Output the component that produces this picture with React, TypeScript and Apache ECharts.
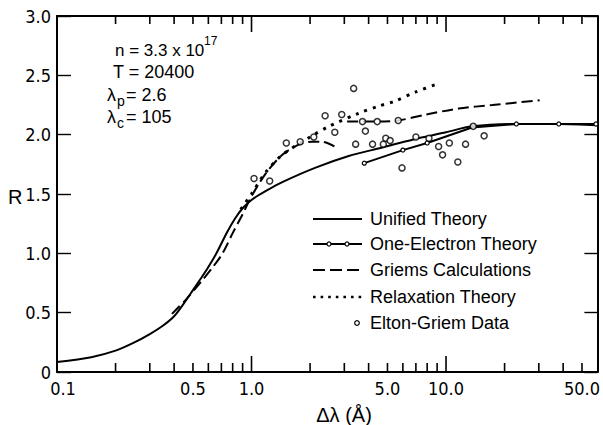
import React, { useEffect, useRef } from "react";
import * as echarts from "echarts";

// ---- data (Δλ in Å, R) ----
const unifiedX = [0.1, 0.15, 0.2, 0.25, 0.3, 0.35, 0.4, 0.45, 0.5, 0.55, 0.6, 0.66, 0.75, 0.82, 0.9, 1.0, 1.2, 1.44, 2.12, 3.16, 4.65, 6.8, 10, 13.6, 23, 38, 60];
const unifiedR = [0.084, 0.125, 0.18, 0.25, 0.32, 0.39, 0.47, 0.58, 0.69, 0.79, 0.885, 1.0, 1.18, 1.29, 1.38, 1.45, 1.53, 1.6, 1.72, 1.82, 1.89, 1.96, 2.02, 2.07, 2.09, 2.09, 2.08];

const oneElecX = [3.8, 6.0, 8.0, 13.6, 23, 38, 59];
const oneElecR = [1.76, 1.87, 1.93, 2.06, 2.09, 2.09, 2.09];
const oneElecMarked = [true, true, true, false, true, true, true];

const griems1X = [0.39, 0.46, 0.55, 0.63, 0.71, 0.8, 0.9, 1.0, 1.18, 1.44, 1.77, 2.05, 2.3, 2.75];
const griems1R = [0.49, 0.61, 0.76, 0.88, 1.0, 1.17, 1.33, 1.48, 1.67, 1.83, 1.92, 1.94, 1.94, 1.89];
const griems2X = [3.1, 3.7, 4.4, 5.7, 7.9, 11.6, 17.3, 30.3];
const griems2R = [2.11, 2.11, 2.11, 2.12, 2.17, 2.22, 2.25, 2.29];

const relaxX = [0.88, 1.0, 1.18, 1.44, 2.0, 2.5, 3.55, 4.5, 5.4, 7.0, 9.1];
const relaxR = [1.37, 1.5, 1.68, 1.83, 1.98, 2.07, 2.18, 2.24, 2.28, 2.36, 2.43];

const dataX = [1.03, 1.24, 1.51, 1.78, 2.09, 2.39, 2.91, 2.68, 3.35, 3.43, 3.85, 4.19, 4.76, 4.9, 5.16, 5.94, 7.0, 8.17, 9.16, 10.4, 9.6, 12.6, 11.5, 15.7, 13.8, 3.72, 4.43, 5.68];
const dataR = [1.63, 1.61, 1.93, 1.94, 1.98, 2.16, 2.17, 2.02, 2.39, 1.92, 2.03, 1.92, 1.92, 1.97, 1.95, 1.72, 1.98, 1.97, 1.9, 1.93, 1.83, 1.92, 1.77, 1.99, 2.07, 2.11, 2.11, 2.12];

const minorTicks = [0.2, 0.3, 0.4, 0.5, 0.6, 0.7, 0.8, 0.9, 2, 3, 4, 5, 6, 7, 8, 9, 20, 30, 40, 50];
const majorTicks = [1, 10];
const xLabelValues = [0.1, 0.5, 1, 5, 10, 50];
const xLabelTexts = ["0.1", "0.5", "1.0", "5.0", "10.0", "50.0"];

const legendNames = ["Unified Theory", "One-Electron Theory", "Griems Calculations", "Relaxation Theory", "Elton-Griem Data"];

const X_MIN = 0.1;
const X_MAX = 60;
const Y_MIN = 0;
const Y_MAX = 3;

const L = (v: number) => Math.log10(v);
const pts = (xs: number[], ys: number[]) => xs.map((x, i) => [L(x), ys[i]]);

const NARROW = "'Liberation Sans Narrow', 'DejaVu Sans Condensed', 'Liberation Sans', sans-serif";
const SANS = "'Liberation Sans', Arial, sans-serif";

export default function App() {
  const ref = useRef<HTMLDivElement>(null);

  useEffect(() => {
    if (!ref.current) return;
    const chart = echarts.init(ref.current, null, { renderer: "svg" });
    const black = "#000";

    const legendRowsY = [219, 244, 270, 297, 323];
    const legendGraphics: any[] = [
      { type: "line", shape: { x1: 313, y1: legendRowsY[0], x2: 362, y2: legendRowsY[0] }, style: { stroke: black, lineWidth: 2 } },
      { type: "line", shape: { x1: 313, y1: legendRowsY[1], x2: 362, y2: legendRowsY[1] }, style: { stroke: black, lineWidth: 2 } },
      { type: "circle", shape: { cx: 329, cy: legendRowsY[1], r: 2 }, style: { fill: "#fff", stroke: black, lineWidth: 1.2 } },
      { type: "circle", shape: { cx: 347, cy: legendRowsY[1], r: 2 }, style: { fill: "#fff", stroke: black, lineWidth: 1.2 } },
      { type: "line", shape: { x1: 313, y1: legendRowsY[2], x2: 362, y2: legendRowsY[2] }, style: { stroke: black, lineWidth: 2, lineDash: [12, 5] } },
      { type: "line", shape: { x1: 313, y1: legendRowsY[3], x2: 366, y2: legendRowsY[3] }, style: { stroke: black, lineWidth: 2.6, lineDash: [2.6, 5] } },
      { type: "circle", shape: { cx: 357, cy: legendRowsY[4], r: 2.3 }, style: { fill: "#fff", stroke: black, lineWidth: 1.2 } },
      ...legendNames.map((n, i) => ({
        type: "text",
        x: 370,
        y: legendRowsY[i],
        style: { text: n, fontSize: 18, fontFamily: SANS, fill: black, verticalAlign: "middle" },
      })),
    ];

    const txt = (text: string, x: number, y: number, size: number, family = SANS, align = "left") => ({
      type: "text",
      x,
      y,
      style: { text, fontSize: size, fontFamily: family, fill: black, align, verticalAlign: "middle" },
    });

    const tickStyle = { color: black, width: 1.4 };

    chart.setOption({
      animation: false,
      backgroundColor: "#fff",
      grid: { left: 57, top: 16, right: 0, bottom: 53, containLabel: false },
      xAxis: [
        {
          type: "value",
          min: L(X_MIN),
          max: L(X_MAX),
          position: "bottom",
          splitLine: { show: false },
          axisLine: { show: true, onZero: false, lineStyle: { color: black, width: 2 } },
          axisTick: { show: false },
          axisLabel: {
            show: true,
            customValues: xLabelValues.map(L),
            formatter: (v: number) => {
              const i = xLabelValues.findIndex((t) => Math.abs(L(t) - v) < 1e-6);
              if (i < 0) return "";
              return i === 0 ? "{first|" + xLabelTexts[i] + "}" : xLabelTexts[i];
            },
            rich: { first: { padding: [0, 0, 0, 12], fontSize: 18, fontFamily: NARROW, color: black } },
            color: black,
            fontSize: 18,
            fontFamily: NARROW,
            margin: 7,
          },
        },
        {
          type: "value",
          min: L(X_MIN),
          max: L(X_MAX),
          position: "top",
          splitLine: { show: false },
          axisLine: { show: true, onZero: false, lineStyle: { color: black, width: 2 } },
          axisTick: { show: false },
          axisLabel: { show: false },
        },
      ],
      yAxis: [
        {
          type: "value",
          min: Y_MIN,
          max: Y_MAX,
          interval: 0.5,
          position: "left",
          splitLine: { show: false },
          axisLine: { show: true, onZero: false, lineStyle: { color: black, width: 2 } },
          axisTick: { show: true, inside: true, length: 14, lineStyle: tickStyle },
          axisLabel: {
            formatter: (v: number) => (v === 0 ? "0" : v.toFixed(1)),
            color: black,
            fontSize: 18,
            fontFamily: NARROW,
            margin: 6,
          },
        },
        {
          type: "value",
          min: Y_MIN,
          max: Y_MAX,
          interval: 0.5,
          position: "right",
          splitLine: { show: false },
          axisLine: { show: true, onZero: false, lineStyle: { color: black, width: 2 } },
          axisTick: { show: true, inside: true, length: 13, lineStyle: tickStyle },
          axisLabel: { show: false },
        },
      ],
      series: [
        {
          name: "Unified Theory",
          type: "line",
          data: pts(unifiedX, unifiedR),
          showSymbol: false,
          smooth: 0.3,
          lineStyle: { color: black, width: 2 },
          z: 3,
        },
        {
          name: "One-Electron Theory",
          type: "line",
          data: oneElecX.map((x, i) => ({
            value: [L(x), oneElecR[i]],
            symbol: oneElecMarked[i] ? "circle" : "none",
          })),
          symbol: "circle",
          symbolSize: 4,
          itemStyle: { color: "#fff", borderColor: black, borderWidth: 1.2 },
          lineStyle: { color: black, width: 2 },
          z: 4,
        },
        {
          name: "Griems Calculations",
          type: "line",
          data: pts(griems1X, griems1R),
          showSymbol: false,
          smooth: 0.3,
          lineStyle: { color: black, width: 2, type: [11, 5] },
          z: 3,
        },
        {
          name: "Griems Calculations",
          type: "line",
          data: pts(griems2X, griems2R),
          showSymbol: false,
          smooth: 0.3,
          lineStyle: { color: black, width: 2, type: [11, 5] },
          z: 3,
        },
        {
          name: "Relaxation Theory",
          type: "line",
          data: pts(relaxX, relaxR),
          showSymbol: false,
          smooth: 0.3,
          lineStyle: { color: black, width: 3, type: [3, 6] },
          z: 3,
        },
        {
          name: "Elton-Griem Data",
          type: "scatter",
          data: pts(dataX, dataR),
          symbol: "circle",
          symbolSize: 6,
          itemStyle: { color: "#fff", borderColor: black, borderWidth: 1.5 },
          z: 5,
        },
      ],
    });

    // x-axis log ticks placed through the chart's own axis scale
    const finder = { xAxisIndex: 0, yAxisIndex: 0 };
    const tickGraphics: any[] = [];
    const addTicks = (vals: number[], lenBottom: number, lenTop: number) => {
      vals.forEach((v) => {
        const b = chart.convertToPixel(finder, [L(v), Y_MIN]) as number[];
        const t = chart.convertToPixel(finder, [L(v), Y_MAX]) as number[];
        if (!b || !t) return;
        tickGraphics.push({
          type: "rect",
          shape: { x: b[0] - 0.8, y: b[1] - lenBottom, width: 1.6, height: lenBottom },
          style: { fill: black },
          z: 100,
        });
        tickGraphics.push({
          type: "rect",
          shape: { x: t[0] - 0.8, y: t[1], width: 1.6, height: lenTop },
          style: { fill: black },
          z: 100,
        });
      });
    };
    addTicks(minorTicks, 9, 8);
    addTicks(majorTicks, 16, 16);

    chart.setOption({
      graphic: [
        ...legendGraphics,
        txt("n = 3.3 x 10", 115, 50, 17),
        txt("17", 204, 41, 12),
        txt("T = 20400", 113, 72, 18),
        txt("λ", 107, 95, 18),
        txt("p", 117, 101, 14),
        txt("= 2.6", 126, 95, 18),
        txt("λ", 107, 117, 18),
        txt("c", 117, 123, 14),
        txt("= 105", 126, 117, 18),
        txt("R", 8, 197, 20),
        txt("Δλ (Å)", 344, 415, 20, SANS, "center"),
        ...tickGraphics,
      ],
    });

    return () => chart.dispose();
  }, []);

  return <div ref={ref} style={{ position: "fixed", left: 0, top: 0, width: 603, height: 425, background: "#fff" }} />;
}
